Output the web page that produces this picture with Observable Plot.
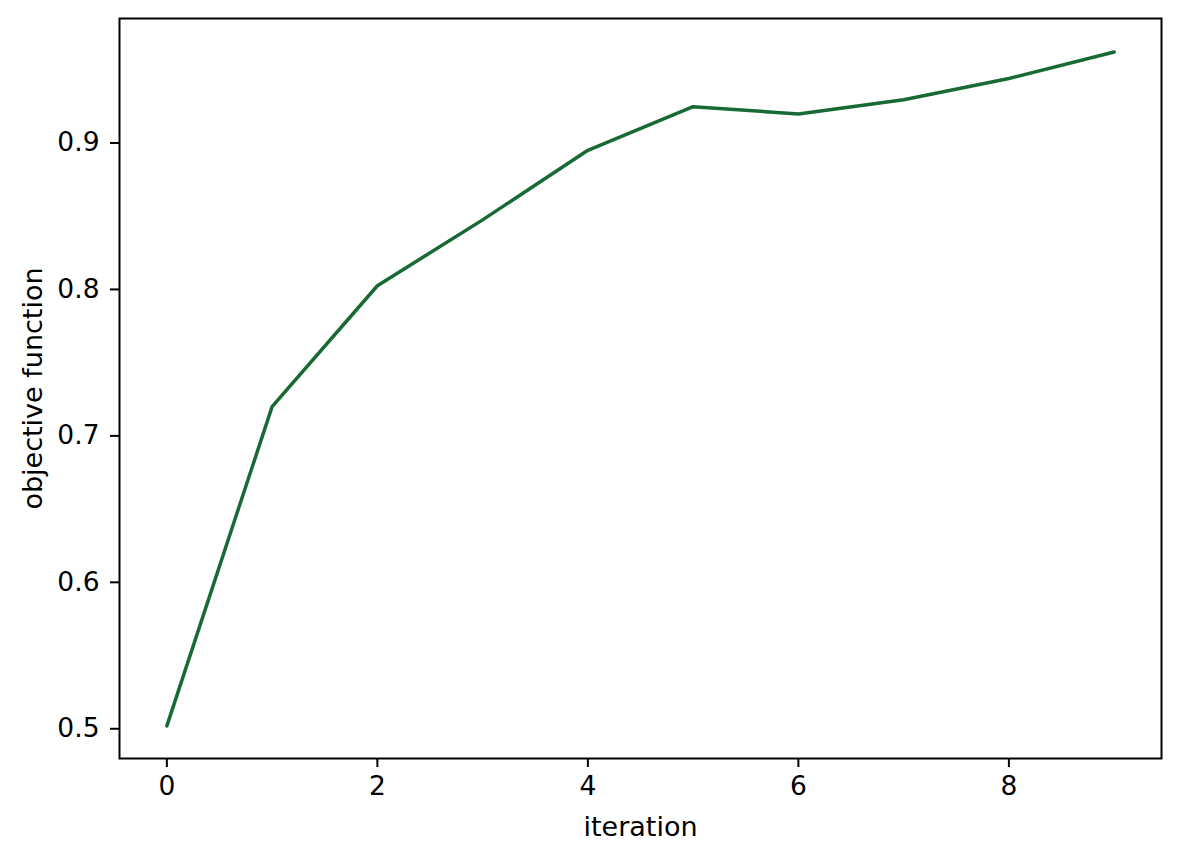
<!DOCTYPE html>
<html>
<head>
<meta charset="utf-8">
<script src="https://cdn.jsdelivr.net/npm/d3@7"></script>
<script src="https://cdn.jsdelivr.net/npm/@observablehq/plot@0.6"></script>
<style>
  body { margin: 0; background: white; }
</style>
</head>
<body>
<div id="chart"></div>
<script>
// datos
const iteration = [0, 1, 2, 3, 4, 5, 6, 7, 8, 9]
const objective = [0.502, 0.720, 0.8025, 0.8475, 0.895, 0.9248, 0.9198, 0.9295, 0.9440, 0.9621]
const xTicks = [0, 2, 4, 6, 8]
const yTicks = [0.5, 0.6, 0.7, 0.8, 0.9]

const data = iteration.map((it, i) => ({iteration: it, value: objective[i]}))

let chart = Plot.plot({
  marks: [
    Plot.frame({stroke: 'black', strokeWidth: 2}),
    Plot.axisX({ticks: xTicks, tickSize: 9, tickPadding: 9, strokeWidth: 2, label: null,
      fontSize: 26.5, tickFormat: d3.format('d')}),
    Plot.axisY({ticks: yTicks, tickSize: 9, tickPadding: 11, strokeWidth: 2, label: null,
      fontSize: 26.5, tickFormat: d3.format('.1f')}),
    Plot.line(data, {x: 'iteration', y: 'value', stroke: '#186a35', strokeWidth: 3.5}),
    Plot.text(['iteration'], {frameAnchor: 'bottom', dy: 69, lineAnchor: 'middle', fontSize: 27}),
    Plot.text(['objective function'], {frameAnchor: 'left', dx: -86, rotate: -90,
      textAnchor: 'middle', lineAnchor: 'middle', fontSize: 27}),
  ],
  x: {domain: [-0.45, 9.45]},
  y: {domain: [0.4797, 0.985]},
  style: {
    fontFamily: '"DejaVu Sans", sans-serif',
    fontSize: 26,
    background: 'white',
    color: 'black',
  },
  width: 1179,
  height: 861,
  marginLeft: 119,
  marginRight: 18,
  marginTop: 18,
  marginBottom: 103,
})
d3.select('#chart').append(() => chart)
</script>
</body>
</html>
